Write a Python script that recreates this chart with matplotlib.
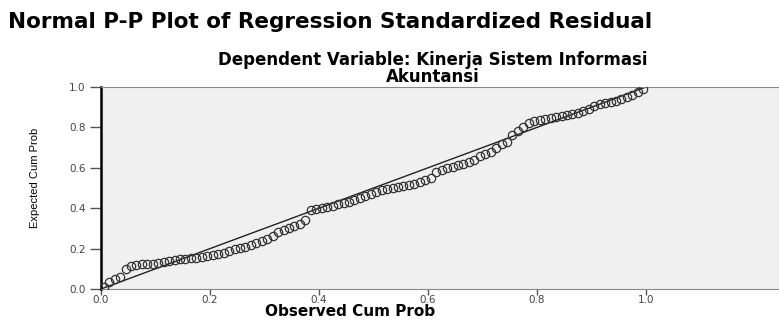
import numpy as np
import matplotlib.pyplot as plt

# --- data ---
observed = [0.005, 0.015, 0.025, 0.035, 0.045, 0.055, 0.065, 0.075, 0.085, 0.095,
            0.105, 0.115, 0.125, 0.135, 0.145, 0.155, 0.165, 0.175, 0.185, 0.195,
            0.205, 0.215, 0.225, 0.235, 0.245, 0.255, 0.265, 0.275, 0.285, 0.295,
            0.305, 0.315, 0.325, 0.335, 0.345, 0.355, 0.365, 0.375, 0.385, 0.395,
            0.405, 0.415, 0.425, 0.435, 0.445, 0.455, 0.465, 0.475, 0.485, 0.495,
            0.505, 0.515, 0.525, 0.535, 0.545, 0.555, 0.565, 0.575, 0.585, 0.595,
            0.605, 0.615, 0.625, 0.635, 0.645, 0.655, 0.665, 0.675, 0.685, 0.695,
            0.705, 0.715, 0.725, 0.735, 0.745, 0.755, 0.765, 0.775, 0.785, 0.795,
            0.805, 0.815, 0.825, 0.835, 0.845, 0.855, 0.865, 0.875, 0.885, 0.895,
            0.905, 0.915, 0.925, 0.935, 0.945, 0.955, 0.965, 0.975, 0.985, 0.995]
expected = [0.010, 0.035, 0.050, 0.060, 0.100, 0.115, 0.120, 0.122, 0.125, 0.125,
            0.128, 0.135, 0.140, 0.145, 0.150, 0.150, 0.155, 0.155, 0.160, 0.165,
            0.170, 0.175, 0.180, 0.190, 0.200, 0.205, 0.210, 0.220, 0.230, 0.240,
            0.250, 0.260, 0.280, 0.290, 0.300, 0.310, 0.320, 0.340, 0.390, 0.395,
            0.400, 0.405, 0.410, 0.420, 0.425, 0.430, 0.440, 0.450, 0.460, 0.470,
            0.480, 0.490, 0.495, 0.500, 0.505, 0.510, 0.515, 0.520, 0.530, 0.540,
            0.550, 0.580, 0.590, 0.600, 0.605, 0.615, 0.620, 0.630, 0.640, 0.660,
            0.670, 0.680, 0.700, 0.720, 0.730, 0.760, 0.780, 0.800, 0.820, 0.830,
            0.835, 0.840, 0.845, 0.850, 0.855, 0.860, 0.865, 0.870, 0.880, 0.890,
            0.905, 0.915, 0.920, 0.925, 0.930, 0.940, 0.950, 0.960, 0.975, 0.990]
ref_line = [0.0, 1.0]
ticks = [0.0, 0.2, 0.4, 0.6, 0.8, 1.0]
tick_labels = ['0.0', '0.2', '0.4', '0.6', '0.8', '1.0']

W, H = 779, 320
fig = plt.figure(figsize=(W / 100, H / 100), dpi=100)
fig.patch.set_facecolor('white')

# axes box in pixels: x 101..779, y 87..289 (from top)
ax = fig.add_axes([101 / W, (H - 289) / H, (W - 101) / W, (289 - 87) / H])
ax.set_facecolor('#f0f0f0')

ax.plot(ref_line, ref_line, color='#222222', lw=1.0, zorder=2)
ax.plot(observed, expected, 'o', mfc='none', mec='#333333', ms=6, mew=0.9, zorder=3)

ax.set_xlim(0, (W - 101) / 545)
ax.set_ylim(0, 1.0)
ax.set_xticks(ticks)
ax.set_xticklabels(tick_labels)
ax.set_yticks(ticks)
ax.set_yticklabels(tick_labels)
ax.tick_params(axis='x', direction='out', length=4, width=1, color='#555555',
               labelsize=7.5, labelcolor='#444444', pad=0.5)
ax.tick_params(axis='y', direction='out', length=8, width=1, color='#555555',
               labelsize=7.5, labelcolor='#444444', pad=3)

ax.spines['left'].set_color('black')
ax.spines['left'].set_linewidth(1.8)
ax.spines['top'].set_color('#888888')
ax.spines['bottom'].set_color('#888888')
ax.spines['right'].set_visible(False)

# labels
fig.text(350 / W, 1 - 319 / H, 'Observed Cum Prob', ha='center', va='bottom',
         fontsize=11, fontweight='bold', family='DejaVu Sans')
fig.text(35 / W, 1 - 178 / H, 'Expected Cum Prob', ha='center', va='center',
         rotation=90, fontsize=8, family='Liberation Sans', color='black')

# titles
fig.text(8 / W, 1 - 22 / H, 'Normal P-P Plot of Regression Standardized Residual',
         ha='left', va='center', fontsize=15.5, fontweight='bold', family='DejaVu Sans')
fig.text(433 / W, 1 - 86 / H, 'Dependent Variable: Kinerja Sistem Informasi\nAkuntansi',
         ha='center', va='bottom', fontsize=12, fontweight='bold', family='DejaVu Sans',
         linespacing=0.95)

fig.savefig('out.png', dpi=100)
